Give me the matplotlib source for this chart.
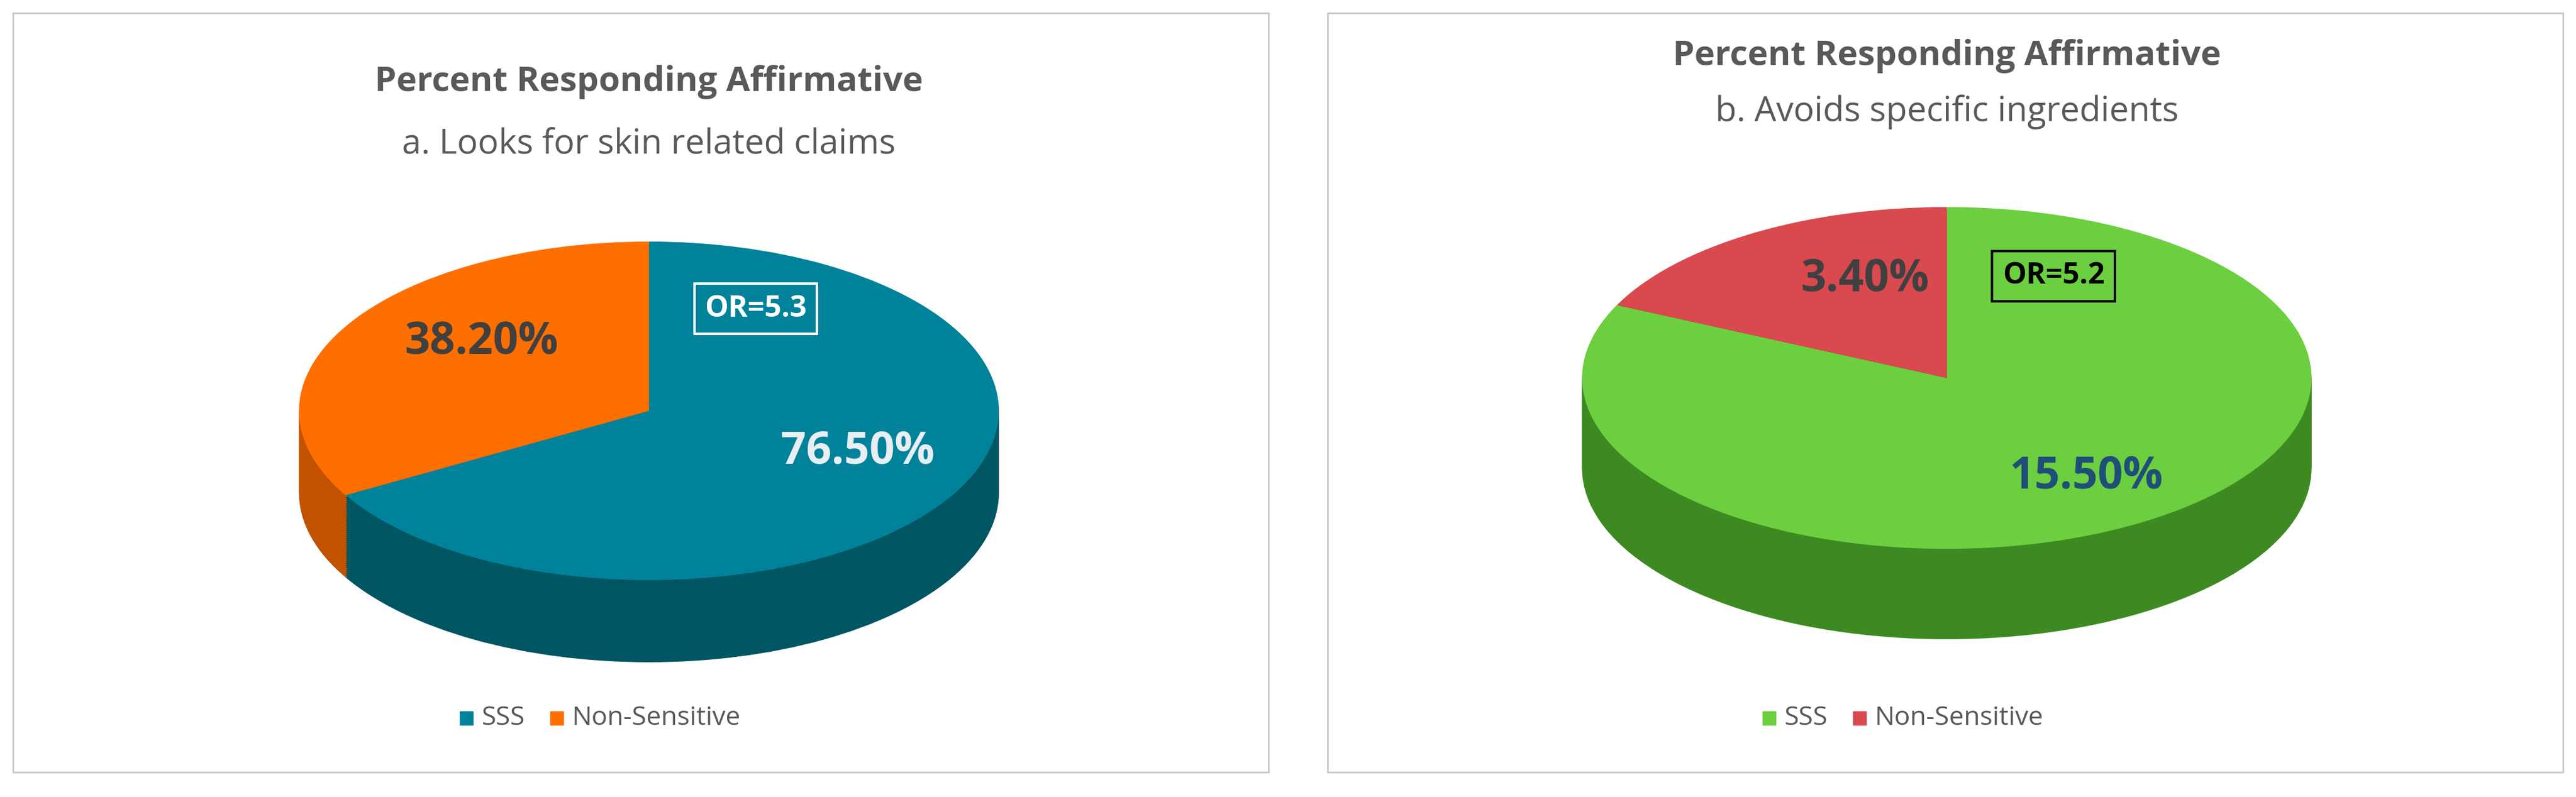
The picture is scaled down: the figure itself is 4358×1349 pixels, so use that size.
import matplotlib
matplotlib.use("Agg")
import matplotlib.pyplot as plt
from matplotlib.patches import Rectangle

plt.rcParams['font.family'] = ['Open Sans', 'DejaVu Sans']

categories = ["SSS", "Non-Sensitive"]
values_a = [76.5, 38.2]
values_b = [15.5, 3.4]
labels_a = ["76.50%", "38.20%"]
labels_b = ["15.50%", "3.40%"]
title = "Percent Responding Affirmative"
sub_a = "a. Looks for skin related claims"
sub_b = "b. Avoids specific ingredients"
or_a = "OR=5.3"
or_b = "OR=5.2"

W, H = 1568, 485
fig = plt.figure(figsize=(43.58, 13.49), dpi=100)
bg = fig.add_axes([0, 0, 1, 1])
bg.set_xlim(0, W); bg.set_ylim(H, 0); bg.axis('off')

for x0, x1 in [(8, 772), (808, 1560)]:
    bg.add_patch(Rectangle((x0, 8), x1 - x0, 462, fill=False, ec='#c8c8c8', lw=2))

def pie3d(vals, top_cols, side_cols, cx, cy, rx, ry, depth):
    ax = fig.add_axes([(cx - rx) / W, 1 - (cy + ry + depth) / H,
                       2 * rx / W, (2 * ry + depth) / H])
    d = depth / ry
    N = 40
    for k in range(N, 0, -1):
        ax.pie(vals, colors=side_cols, startangle=90, counterclock=False,
               center=(0, -d * k / N), wedgeprops=dict(linewidth=0))
    ax.pie(vals, colors=top_cols, startangle=90, counterclock=False,
           center=(0, 0), wedgeprops=dict(linewidth=0))
    ax.set_aspect('auto')
    ax.set_xlim(-1, 1); ax.set_ylim(-1 - d, 1)
    ax.axis('off')

pie3d(values_a, ['#00829B', '#FF6F00'], ['#005563', '#C05200'], 395, 250, 213, 103, 50)
pie3d(values_b, ['#6CCF3F', '#D9494D'], ['#3E8A22', '#A03034'], 1185, 230, 222, 104, 55)

top = fig.add_axes([0, 0, 1, 1])
top.set_xlim(0, W); top.set_ylim(H, 0); top.axis('off')
top.patch.set_alpha(0)

gray = '#595959'
for cx, y1, y2, sub in [(395, 50, 88, sub_a), (1185, 34, 68, sub_b)]:
    top.text(cx, y1, title, ha='center', va='center', fontsize=42, fontweight='bold', color=gray)
    top.text(cx, y2, sub, ha='center', va='center', fontsize=42, color=gray)

top.text(293, 208, labels_a[1], ha='center', va='center', fontsize=54, fontweight='bold', color='#404040')
top.text(522, 275, labels_a[0], ha='center', va='center', fontsize=54, fontweight='bold', color='#E8EEF2')
top.text(460, 188, or_a, ha='center', va='center', fontsize=36, fontweight='bold', color='white',
         bbox=dict(boxstyle='square,pad=0.35', fc='none', ec='white', lw=3))
top.text(1135, 170, labels_b[1], ha='center', va='center', fontsize=54, fontweight='bold', color='#404040')
top.text(1270, 290, labels_b[0], ha='center', va='center', fontsize=54, fontweight='bold', color='#1F4E79')
top.text(1250, 168, or_b, ha='center', va='center', fontsize=36, fontweight='bold', color='black',
         bbox=dict(boxstyle='square,pad=0.35', fc='none', ec='black', lw=3))

for x, cols in [(280, ['#00829B', '#FF6F00']), (1073, ['#6CCF3F', '#D9494D'])]:
    top.add_patch(Rectangle((x, 433), 8, 8, color=cols[0]))
    top.text(x + 13, 437, categories[0], va='center', fontsize=32, color=gray)
    top.add_patch(Rectangle((x + 55, 433), 8, 8, color=cols[1]))
    top.text(x + 68, 437, categories[1], va='center', fontsize=32, color=gray)

fig.savefig("out.png", dpi=100)
